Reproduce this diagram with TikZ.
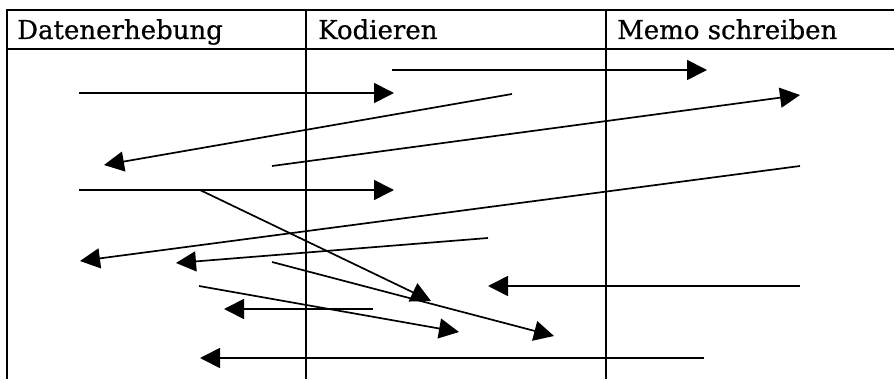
\documentclass[tikz,border=0pt]{standalone}
\usepackage{fontspec}
\setmainfont{DejaVu Serif}
\newfontfamily\headfont[FakeBold=0.7]{DejaVu Serif}
\usetikzlibrary{arrows.meta}
\begin{document}
\begin{tikzpicture}[x=1pt,y=-1pt,
  gridline/.style={line width=2.3pt,line cap=rect},
  flow/.style={line width=1.7pt,-{Triangle[length=20pt,width=20pt]}},
  head/.style={anchor=base west,inner sep=0pt,font=\headfont\fontsize{26}{30}\selectfont}]
\useasboundingbox (0,0) rectangle (894,379);
% table
\draw[gridline] (7,10) -- (894,10);
\draw[gridline] (7,49) -- (894,49);
\draw[gridline] (7,10) -- (7,379);
\draw[gridline] (306,10) -- (306,379);
\draw[gridline] (606,10) -- (606,379);
\node[head] (h1) at (17,39) {Datenerhebung};
\node[head] (h2) at (318,39) {Kodieren};
\node[head] (h3) at (617,39) {Memo schreiben};
% endpoints
\coordinate (a1s) at (392,70);  \coordinate (a1e) at (707,70);
\coordinate (a2s) at (79,93);   \coordinate (a2e) at (394,93);
\coordinate (a3s) at (512,94);  \coordinate (a3e) at (104,165);
\coordinate (a4s) at (272,166); \coordinate (a4e) at (800,95);
\coordinate (a5s) at (79,190);  \coordinate (a5e) at (394,190);
\coordinate (a6s) at (800,166); \coordinate (a6e) at (80,261);
\coordinate (a7s) at (200,190); \coordinate (a7e) at (431,301);
\coordinate (a8s) at (488,238); \coordinate (a8e) at (176,263);
\coordinate (a9s) at (272,262); \coordinate (a9e) at (554,336);
\coordinate (a10s) at (199,286); \coordinate (a10e) at (459,332);
\coordinate (a11s) at (373,309); \coordinate (a11e) at (224,309);
\coordinate (a12s) at (800,286); \coordinate (a12e) at (488,286);
\coordinate (a13s) at (704,358); \coordinate (a13e) at (200,358);
% arrows
\draw[flow] (a1s) -- (a1e);
\draw[flow] (a2s) -- (a2e);
\draw[flow] (a3s) -- (a3e);
\draw[flow] (a4s) -- (a4e);
\draw[flow] (a5s) -- (a5e);
\draw[flow] (a6s) -- (a6e);
\draw[flow] (a7s) -- (a7e);
\draw[flow] (a8s) -- (a8e);
\draw[flow] (a9s) -- (a9e);
\draw[flow] (a10s) -- (a10e);
\draw[flow] (a11s) -- (a11e);
\draw[flow] (a12s) -- (a12e);
\draw[flow] (a13s) -- (a13e);
\end{tikzpicture}
\end{document}
